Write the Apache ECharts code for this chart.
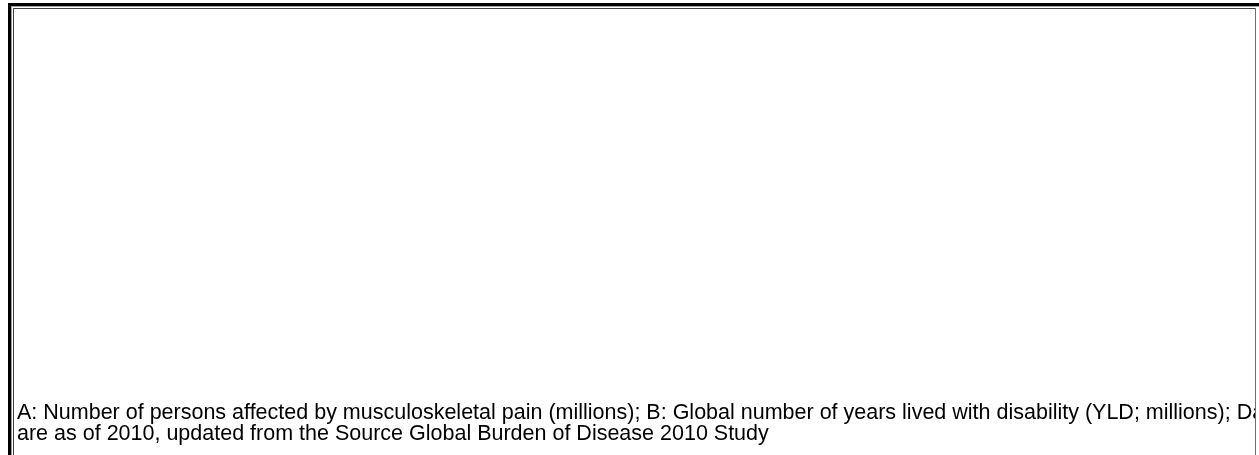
<!DOCTYPE html>
<html>
<head>
<meta charset="utf-8">
<script src="https://cdn.jsdelivr.net/npm/echarts@6/dist/echarts.min.js"></script>
<style>
html,body{margin:0;padding:0;background:#fff;}
#chart{width:1259px;height:455px;}
</style>
</head>
<body>
<div id="chart"></div>
<script>
// The reference figure shows an empty chart panel (no marks drawn) with its caption.
const categories = [];
const seriesA = [];
const seriesB = [];
const captionLines = [
  "A: Number of persons affected by musculoskeletal pain (millions); B: Global number of years lived with disability (YLD; millions); Data",
  "are as of 2010, updated from the Source Global Burden of Disease 2010 Study"
];

const chart = echarts.init(document.getElementById('chart'), null, {renderer: 'canvas'});
const W = 1259, H = 455;
const font = 'Liberation Sans, Arial, sans-serif';
const fs = 21.5;

const option = {
  backgroundColor: '#ffffff',
  animation: false,
  grid: {left: 20, right: 20, top: 20, bottom: 80, show: false},
  xAxis: {type: 'category', data: categories, show: false},
  yAxis: {type: 'value', show: false},
  series: [
    {type: 'bar', name: 'A', data: seriesA},
    {type: 'bar', name: 'B', data: seriesB}
  ],
  graphic: [
    // caption text
    {type: 'text', left: 17, top: 402, z: 10,
      style: {text: captionLines[0], font: fs + 'px ' + font, fill: '#000'}},
    {type: 'text', left: 17, top: 423, z: 10,
      style: {text: captionLines[1], font: fs + 'px ' + font, fill: '#000'}},
    // mask clipping text at inner frame edge
    {type: 'rect', z: 20, shape: {x: 1256, y: 0, width: 10, height: H}, style: {fill: '#fff'}},
    // outer black frame (top, left)
    {type: 'rect', z: 30, shape: {x: 8, y: 3, width: W - 8, height: 3}, style: {fill: '#000'}},
    {type: 'rect', z: 30, shape: {x: 8, y: 3, width: 3, height: H - 3}, style: {fill: '#000'}},
    // light grey inner edge of outer frame
    {type: 'rect', z: 30, shape: {x: 11, y: 6, width: W - 11, height: 1}, style: {fill: '#a0a0a0'}},
    {type: 'rect', z: 30, shape: {x: 11, y: 6, width: 1, height: H - 6}, style: {fill: '#a0a0a0'}},
    // inner thin frame
    {type: 'rect', z: 30, shape: {x: 13, y: 8, width: 1243, height: 1}, style: {fill: '#404040'}},
    {type: 'rect', z: 30, shape: {x: 13, y: 8, width: 1, height: H - 8}, style: {fill: '#404040'}},
    {type: 'rect', z: 30, shape: {x: 1255, y: 8, width: 1, height: H - 8}, style: {fill: '#707070'}}
  ]
};
chart.setOption(option);
</script>
</body>
</html>
